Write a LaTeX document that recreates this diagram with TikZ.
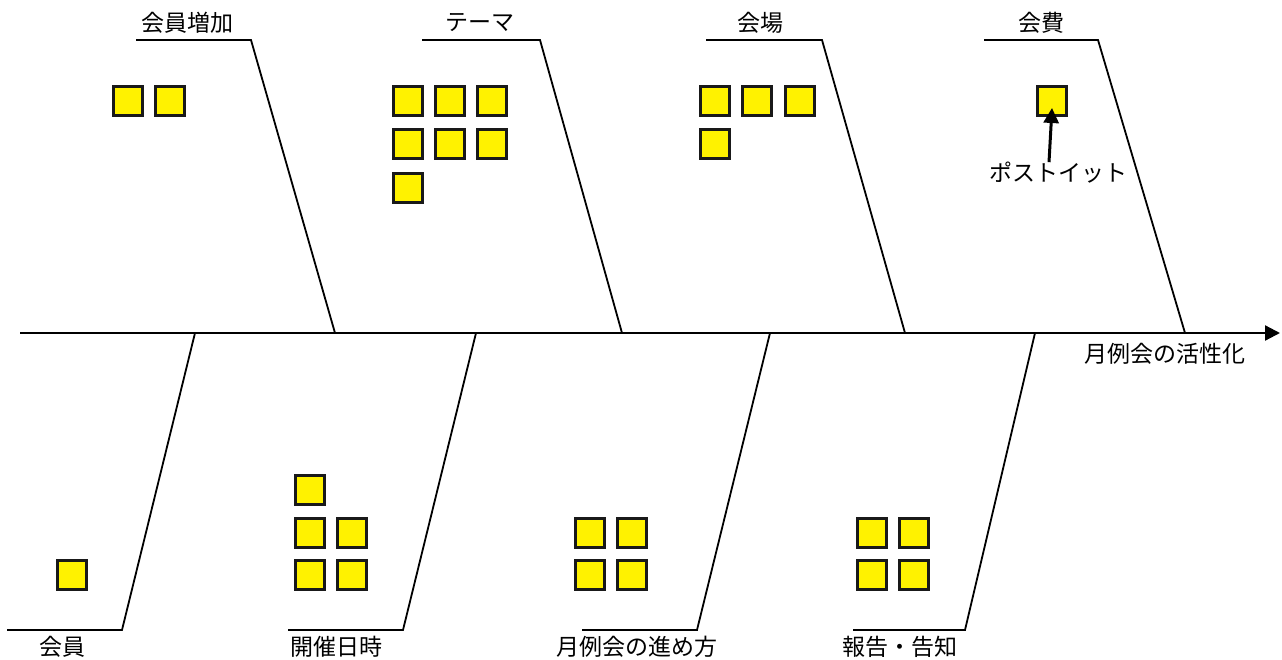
\documentclass[tikz,border=0pt]{standalone}
\usepackage{fontspec}
\newfontfamily\jpfont{Noto Sans CJK JP}
\usetikzlibrary{arrows.meta}

\begin{document}
\begin{tikzpicture}[
    x=1pt, y=-1pt,
    every node/.style={font=\jpfont\fontsize{23}{27}\selectfont, inner sep=0pt},
    postit/.style={rectangle, draw=black!90, fill=yellow, line width=2.2pt, minimum size=29pt},
    bone/.style={line width=1.8pt},
    spine/.style={line width=2.2pt, -{Triangle[length=15pt, width=15pt]}},
    pointer/.style={line width=3pt, -{Triangle[length=15pt, width=15pt]}}
]
    \useasboundingbox (0,0) rectangle (1282,660);

% -------------------------
% Spine
% -------------------------
    \coordinate (s0) at (20,333);
    \coordinate (s1) at (1280,333);
    \node (goal) at (1165,354) {月例会の活性化};
    \draw[spine] (s0) -- (s1);

% -------------------------
% Upper Bones
% -------------------------
    \node (cat1) at (187,23) {会員増加};
    \coordinate (b1s) at (136,40);
    \coordinate (b1k) at (251,40);
    \coordinate (b1e) at (335,333);
    \draw[bone] (b1s) -- (b1k) -- (b1e);

    \node (cat2) at (480,23) {テーマ};
    \coordinate (b2s) at (422,40);
    \coordinate (b2k) at (540,40);
    \coordinate (b2e) at (622,333);
    \draw[bone] (b2s) -- (b2k) -- (b2e);

    \node (cat3) at (760,23) {会場};
    \coordinate (b3s) at (706,40);
    \coordinate (b3k) at (822,40);
    \coordinate (b3e) at (905,333);
    \draw[bone] (b3s) -- (b3k) -- (b3e);

    \node (cat4) at (1041,23) {会費};
    \coordinate (b4s) at (984,40);
    \coordinate (b4k) at (1098,40);
    \coordinate (b4e) at (1185,333);
    \draw[bone] (b4s) -- (b4k) -- (b4e);

% -------------------------
% Lower Bones
% -------------------------
    \node (cat5) at (62,647) {会員};
    \coordinate (b5e) at (195,333);
    \coordinate (b5k) at (122,630);
    \coordinate (b5s) at (7,630);
    \draw[bone] (b5e) -- (b5k) -- (b5s);

    \node (cat6) at (336,647) {開催日時};
    \coordinate (b6e) at (476,333);
    \coordinate (b6k) at (403,630);
    \coordinate (b6s) at (288,630);
    \draw[bone] (b6e) -- (b6k) -- (b6s);

    \node (cat7) at (637,647) {月例会の進め方};
    \coordinate (b7e) at (770,333);
    \coordinate (b7k) at (697,630);
    \coordinate (b7s) at (582,630);
    \draw[bone] (b7e) -- (b7k) -- (b7s);

    \node (cat8) at (900,647) {報告・告知};
    \coordinate (b8e) at (1035,333);
    \coordinate (b8k) at (965,630);
    \coordinate (b8s) at (853,630);
    \draw[bone] (b8e) -- (b8k) -- (b8s);

% -------------------------
% Post-its
% -------------------------
% 会員増加
    \node[postit] (p1a) at (128,101) {};
    \node[postit] (p1b) at (170,101) {};
% テーマ
    \node[postit] (p2a) at (408,101) {};
    \node[postit] (p2b) at (450,101) {};
    \node[postit] (p2c) at (492,101) {};
    \node[postit] (p2d) at (408,144) {};
    \node[postit] (p2e) at (450,144) {};
    \node[postit] (p2f) at (492,144) {};
    \node[postit] (p2g) at (408,188) {};
% 会場
    \node[postit] (p3a) at (715,101) {};
    \node[postit] (p3b) at (757,101) {};
    \node[postit] (p3c) at (800,101) {};
    \node[postit] (p3d) at (715,144) {};
% 会費
    \node[postit] (p4a) at (1052,101) {};
% 会員
    \node[postit] (p5a) at (72,575) {};
% 開催日時
    \node[postit] (p6a) at (310,490) {};
    \node[postit] (p6b) at (310,533) {};
    \node[postit] (p6c) at (352,533) {};
    \node[postit] (p6d) at (310,575) {};
    \node[postit] (p6e) at (352,575) {};
% 月例会の進め方
    \node[postit] (p7a) at (590,533) {};
    \node[postit] (p7b) at (632,533) {};
    \node[postit] (p7c) at (590,575) {};
    \node[postit] (p7d) at (632,575) {};
% 報告・告知
    \node[postit] (p8a) at (872,533) {};
    \node[postit] (p8b) at (914,533) {};
    \node[postit] (p8c) at (872,575) {};
    \node[postit] (p8d) at (914,575) {};

% -------------------------
% Callout
% -------------------------
    \node (tag) at (1058,173) {ポストイット};
    \draw[pointer] ([xshift=-9pt]tag.north) -- ([yshift=-7pt]p4a.center);
\end{tikzpicture}
\end{document}
